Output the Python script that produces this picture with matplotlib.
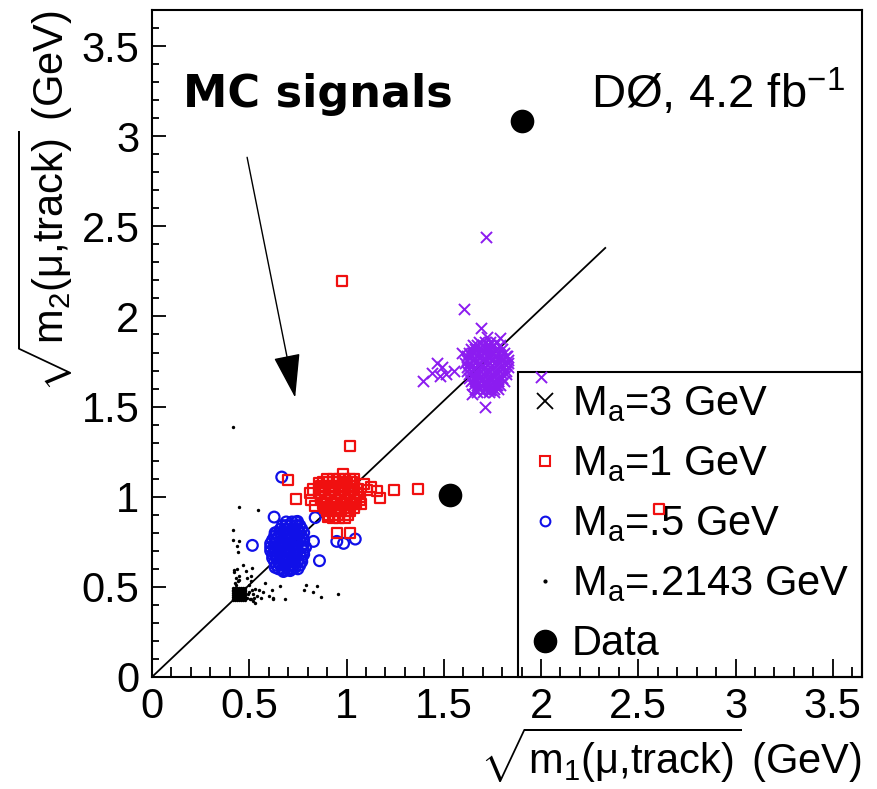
import matplotlib
matplotlib.use("Agg")
import matplotlib.pyplot as plt
from matplotlib.lines import Line2D

plt.rcParams["font.family"] = ["Liberation Sans", "DejaVu Sans"]
plt.rcParams["mathtext.fontset"] = "custom"
plt.rcParams["mathtext.rm"] = "Liberation Sans"
plt.rcParams["mathtext.it"] = "Liberation Sans:italic"
plt.rcParams["mathtext.bf"] = "Liberation Sans:bold"
plt.rcParams["mathtext.sf"] = "Liberation Sans"

# ---- M_a = 3 GeV (purple crosses): dense core rows (y, xs) + outliers ----
ma3_core_rows = [
    (1.86, [1.68, 1.71, 1.74, 1.77]),
    (1.84, [1.65, 1.67, 1.70, 1.73, 1.76, 1.79]),
    (1.82, [1.64, 1.66, 1.69, 1.72, 1.74, 1.77, 1.80]),
    (1.80, [1.63, 1.65, 1.68, 1.70, 1.73, 1.75, 1.78, 1.81]),
    (1.78, [1.62, 1.64, 1.67, 1.69, 1.72, 1.74, 1.77, 1.79, 1.82]),
    (1.76, [1.62, 1.65, 1.67, 1.70, 1.72, 1.75, 1.78, 1.80, 1.83]),
    (1.74, [1.61, 1.63, 1.66, 1.68, 1.71, 1.73, 1.76, 1.78, 1.81, 1.83]),
    (1.72, [1.62, 1.64, 1.66, 1.69, 1.71, 1.74, 1.76, 1.79, 1.81, 1.83]),
    (1.70, [1.62, 1.64, 1.67, 1.69, 1.72, 1.74, 1.77, 1.79, 1.82]),
    (1.68, [1.63, 1.65, 1.67, 1.70, 1.72, 1.75, 1.77, 1.80, 1.82]),
    (1.66, [1.63, 1.66, 1.68, 1.70, 1.73, 1.75, 1.78, 1.80]),
    (1.64, [1.64, 1.66, 1.69, 1.71, 1.73, 1.76, 1.78, 1.81]),
    (1.62, [1.65, 1.67, 1.69, 1.72, 1.74, 1.77, 1.79]),
    (1.60, [1.66, 1.68, 1.71, 1.73, 1.76, 1.78]),
    (1.58, [1.67, 1.70, 1.73, 1.76]),
]
x_ma3_out = [1.717, 1.606, 1.69, 1.72, 1.788, 1.594, 1.826, 1.49, 1.51, 1.48,
             1.393, 1.44, 1.465, 1.55, 1.78, 1.645, 1.71, 2.0, 1.74, 1.774]
y_ma3_out = [2.44, 2.04, 1.937, 1.886, 1.878, 1.80, 1.783, 1.72, 1.68, 1.67,
             1.644, 1.687, 1.74, 1.696, 1.64, 1.572, 1.50, 1.665, 1.594, 1.62]

# ---- M_a = 1 GeV (red squares) ----
ma1_core_rows = [
    (1.10, [0.90, 0.93, 0.96, 0.99, 1.02]),
    (1.08, [0.88, 0.90, 0.93, 0.95, 0.98, 1.00, 1.03]),
    (1.06, [0.87, 0.89, 0.92, 0.94, 0.97, 0.99, 1.02, 1.04]),
    (1.04, [0.86, 0.88, 0.91, 0.93, 0.96, 0.98, 1.01, 1.03, 1.06]),
    (1.02, [0.86, 0.89, 0.91, 0.94, 0.96, 0.99, 1.01, 1.04, 1.06]),
    (1.00, [0.87, 0.89, 0.92, 0.94, 0.97, 0.99, 1.02, 1.04, 1.07]),
    (0.98, [0.87, 0.90, 0.92, 0.95, 0.97, 1.00, 1.02, 1.05, 1.07]),
    (0.96, [0.88, 0.90, 0.93, 0.95, 0.98, 1.00, 1.03, 1.05]),
    (0.94, [0.89, 0.91, 0.94, 0.96, 0.99, 1.01, 1.04]),
    (0.92, [0.90, 0.92, 0.95, 0.97, 1.00, 1.02]),
    (0.90, [0.91, 0.94, 0.96, 0.99, 1.01]),
    (0.88, [0.93, 0.96, 0.99]),
]
x_ma1_out = [0.978, 1.016, 0.70, 0.741, 0.813, 0.818, 0.86, 0.98, 1.036, 1.105,
             1.127, 1.156, 1.17, 1.245, 1.37, 1.074, 0.907, 0.95, 1.019, 2.606,
             0.83, 0.84, 1.09]
y_ma1_out = [2.194, 1.283, 1.094, 0.987, 1.02, 0.98, 1.076, 1.124, 1.10, 1.039,
             1.052, 1.03, 0.991, 1.039, 1.042, 0.961, 0.886, 0.797, 0.797, 0.93,
             1.04, 0.95, 1.07]

# ---- M_a = .5 GeV (blue circles) ----
ma05_core_rows = [
    (0.86, [0.69, 0.72, 0.74]),
    (0.84, [0.67, 0.69, 0.71, 0.74, 0.76]),
    (0.82, [0.66, 0.68, 0.70, 0.73, 0.75, 0.77]),
    (0.80, [0.64, 0.66, 0.69, 0.71, 0.73, 0.76, 0.78]),
    (0.78, [0.63, 0.65, 0.68, 0.70, 0.72, 0.75, 0.77]),
    (0.76, [0.62, 0.64, 0.67, 0.69, 0.71, 0.74, 0.76, 0.78]),
    (0.74, [0.61, 0.63, 0.66, 0.68, 0.70, 0.73, 0.75, 0.78]),
    (0.72, [0.61, 0.63, 0.65, 0.67, 0.70, 0.72, 0.74, 0.77, 0.79]),
    (0.70, [0.61, 0.63, 0.66, 0.68, 0.70, 0.73, 0.75, 0.78]),
    (0.68, [0.62, 0.64, 0.66, 0.69, 0.71, 0.73, 0.76, 0.78]),
    (0.66, [0.62, 0.64, 0.67, 0.69, 0.72, 0.74, 0.77]),
    (0.64, [0.63, 0.65, 0.68, 0.70, 0.72, 0.75, 0.77]),
    (0.62, [0.64, 0.66, 0.68, 0.71, 0.73, 0.76]),
    (0.60, [0.65, 0.67, 0.70, 0.72, 0.75]),
    (0.59, [0.68, 0.71]),
]
x_ma05_out = [0.667, 0.628, 0.748, 0.839, 0.516, 0.633, 0.83, 0.861,
              0.633, 0.676, 0.736, 0.95, 0.985, 1.045]
y_ma05_out = [1.109, 0.887, 0.863, 0.884, 0.73, 0.80, 0.752, 0.645,
              0.608, 0.585, 0.608, 0.752, 0.741, 0.765]

# ---- M_a = .2143 GeV (black dots) ----
ma02_core_rows = [
    (0.495, [0.418, 0.428, 0.438, 0.448, 0.458, 0.468, 0.478]),
    (0.485, [0.418, 0.428, 0.438, 0.448, 0.458, 0.468, 0.478]),
    (0.475, [0.418, 0.428, 0.438, 0.448, 0.458, 0.468, 0.478]),
    (0.465, [0.418, 0.428, 0.438, 0.448, 0.458, 0.468, 0.478]),
    (0.455, [0.418, 0.428, 0.438, 0.448, 0.458, 0.468, 0.478]),
    (0.445, [0.418, 0.428, 0.438, 0.448, 0.458, 0.468, 0.478]),
    (0.435, [0.418, 0.428, 0.438, 0.448, 0.458, 0.468, 0.478]),
    (0.425, [0.418, 0.428, 0.438, 0.448, 0.458, 0.468, 0.478]),
]
x_ma02_out = [0.425, 0.44, 0.43, 0.445, 0.42, 0.435, 0.43, 0.445,
              0.49, 0.50, 0.51, 0.52, 0.53, 0.50, 0.52, 0.54, 0.55, 0.51, 0.53, 0.56,
              0.49, 0.57, 0.58, 0.60, 0.62, 0.51, 0.495, 0.505, 0.515, 0.525,
              0.419, 0.448, 0.547, 0.415, 0.419, 0.448, 0.436, 0.441, 0.47, 0.513,
              0.484, 0.422, 0.793, 0.848, 0.779, 0.827, 0.868, 0.954, 0.685, 0.659,
              0.616, 0.621]
y_ma02_out = [0.52, 0.53, 0.55, 0.56, 0.58, 0.60, 0.51, 0.54,
              0.44, 0.47, 0.43, 0.46, 0.49, 0.51, 0.42, 0.45, 0.48, 0.53, 0.41, 0.44,
              0.55, 0.47, 0.52, 0.45, 0.43, 0.56, 0.46, 0.43, 0.48, 0.44,
              1.385, 0.941, 0.924, 0.813, 0.761, 0.757, 0.724, 0.696, 0.622, 0.603,
              0.589, 0.594, 0.511, 0.502, 0.483, 0.474, 0.446, 0.463, 0.431, 0.502,
              0.483, 0.436]

# ---- Data ----
x_data = [1.904, 1.534]
y_data = [3.083, 1.011]

# diagonal reference line
line_x = [0.0, 2.33]
line_y = [0.0, 2.38]

ticks = [0, 0.5, 1, 1.5, 2, 2.5, 3, 3.5]
tick_labels = ["0", "0.5", "1", "1.5", "2", "2.5", "3", "3.5"]


def flatten(rows, x_out, y_out):
    xs = [x for y, row in rows for x in row] + list(x_out)
    ys = [y for y, row in rows for _ in row] + list(y_out)
    return xs, ys


purple = "#8c1cf0"
red = "#f01010"
blue = "#1010e8"

x_ma3, y_ma3 = flatten(ma3_core_rows, x_ma3_out, y_ma3_out)
x_ma1, y_ma1 = flatten(ma1_core_rows, x_ma1_out, y_ma1_out)
x_ma05, y_ma05 = flatten(ma05_core_rows, x_ma05_out, y_ma05_out)
x_ma02, y_ma02 = flatten(ma02_core_rows, x_ma02_out, y_ma02_out)

fig = plt.figure(figsize=(8.78, 7.89), dpi=100)
ax = fig.add_axes([0.1731, 0.1420, 0.8087, 0.8453])

ax.plot(line_x, line_y, color="black", lw=1.3, zorder=2)
ax.scatter(x_ma02, y_ma02, s=6, color="black", marker="o", lw=0, zorder=3)
ax.scatter(x_ma05, y_ma05, s=60, facecolors="none", edgecolors=blue, marker="o", lw=1.6, zorder=3)
ax.scatter(x_ma1, y_ma1, s=52, facecolors="none", edgecolors=red, marker="s", lw=1.6, zorder=3)
ax.scatter(x_ma3, y_ma3, s=64, color=purple, marker="x", lw=1.4, zorder=3)
ax.scatter(x_data, y_data, s=290, color="black", marker="o", lw=0, zorder=4)

ax.annotate("", xy=(0.736, 1.55), xytext=(0.489, 2.883),
            arrowprops=dict(arrowstyle="-|>,head_length=2.8,head_width=0.85",
                            color="black", lw=1.0, shrinkA=0, shrinkB=0))

ax.text(0.044, 0.855, "MC signals", transform=ax.transAxes, fontsize=32,
        fontweight="bold", family="DejaVu Sans", ha="left", va="baseline")
ax.text(0.976, 0.853, "DØ, 4.2 fb$^{\\mathregular{-1}}$", transform=ax.transAxes,
        fontsize=34, ha="right", va="baseline")

ax.set_xlim(0, 3.65)
ax.set_ylim(0, 3.70)
ax.set_xticks(ticks)
ax.set_xticklabels(tick_labels)
ax.set_yticks(ticks)
ax.set_yticklabels(tick_labels)
ax.set_xticks([i / 10 for i in range(37)], minor=True)
ax.set_yticks([i / 10 for i in range(38)], minor=True)
ax.tick_params(axis="both", which="both", direction="in", labelsize=30, width=1.3)
ax.tick_params(axis="x", which="major", length=13, pad=7)
ax.tick_params(axis="x", which="minor", length=7)
ax.tick_params(axis="y", which="major", length=10, pad=9)
ax.tick_params(axis="y", which="minor", length=5)
for sp in ax.spines.values():
    sp.set_linewidth(1.5)

ax.set_xlabel(r"$\sqrt{\mathrm{m_1(\mu{,}track)}}$ (GeV)", fontsize=30, loc="right")
ax.xaxis.set_label_coords(1.0, -0.072)
ax.set_ylabel(r"$\sqrt{\mathrm{m_2(\mu{,}track)}}$ (GeV)", fontsize=30, loc="top")
ax.yaxis.set_label_coords(-0.108, 1.0)

handles = [
    Line2D([], [], ls="none", marker="x", color="black", markersize=11, mew=1.3),
    Line2D([], [], ls="none", marker="s", mfc="none", mec=red, markersize=7, mew=1.5),
    Line2D([], [], ls="none", marker="o", mfc="none", mec=blue, markersize=7, mew=1.5),
    Line2D([], [], ls="none", marker="o", color="black", markersize=2),
    Line2D([], [], ls="none", marker="o", color="black", markersize=16),
]
labels = ["M$_\\mathregular{a}$=3 GeV", "M$_\\mathregular{a}$=1 GeV",
          "M$_\\mathregular{a}$=.5 GeV", "M$_\\mathregular{a}$=.2143 GeV", "Data"]
leg = ax.legend(handles, labels, loc="lower right", bbox_to_anchor=(1.0, 0.0),
                borderaxespad=0, fontsize=30, frameon=True, fancybox=False,
                edgecolor="black", framealpha=1, handlelength=0.7,
                handletextpad=0.3, borderpad=0.3, labelspacing=0.48)
leg.get_frame().set_linewidth(1.5)
leg.set_zorder(1)

fig.savefig("out.png", dpi=100)
